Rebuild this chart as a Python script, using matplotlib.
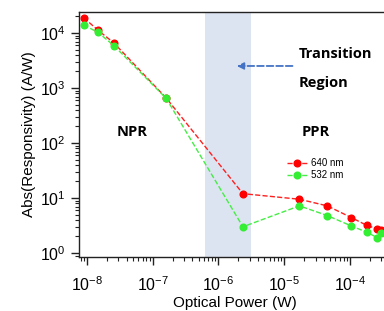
import matplotlib
matplotlib.use("Agg")
import matplotlib.pyplot as plt
from matplotlib.ticker import LogLocator, NullFormatter

# Data
power_640 = [8.9e-9, 1.47e-8, 2.57e-8, 1.6e-7, 2.35e-6, 1.7e-5, 4.5e-5, 1.05e-4, 1.78e-4, 2.6e-4, 2.95e-4]
resp_640 = [1.9e4, 1.13e4, 6.6e3, 660, 12, 9.5, 7.2, 4.4, 3.2, 2.73, 2.65]

power_532 = [8.9e-9, 1.47e-8, 2.57e-8, 1.6e-7, 2.35e-6, 1.7e-5, 4.5e-5, 1.05e-4, 1.78e-4, 2.6e-4, 2.95e-4]
resp_532 = [1.4e4, 1.03e4, 5.9e3, 650, 3.0, 7.2, 4.8, 3.1, 2.4, 1.9, 2.3]

transition = (6.25e-7, 3.13e-6)

plt.rcParams['font.family'] = ['Liberation Sans', 'DejaVu Sans']

fig = plt.figure(figsize=(3.84, 3.11), dpi=100)
# axes run a little past the right edge, like the cropped original
ax = fig.add_axes([0.206, 0.174, 0.81, 0.787])

ax.axvspan(transition[0], transition[1], color='#dde4f1', zorder=0, lw=0)

ax.plot(power_640, resp_640, linestyle='--', color='#ff2020', lw=1,
        marker='o', ms=4.8, mfc='#ff0000', mec='#ff0000', label='640 nm', zorder=3)
ax.plot(power_532, resp_532, linestyle='--', color='#44ee44', lw=1,
        marker='o', ms=4.8, mfc='#33ee33', mec='#33ee33', label='532 nm', zorder=3)

ax.set_xscale('log')
ax.set_yscale('log')
ax.set_xlim(7.6e-9, 4.07e-4)
ax.set_ylim(0.85, 2.4e4)

ax.xaxis.set_major_locator(LogLocator(base=10, numticks=10))
ax.xaxis.set_minor_locator(LogLocator(base=10, subs=range(2, 10), numticks=20))
ax.xaxis.set_minor_formatter(NullFormatter())
ax.yaxis.set_major_locator(LogLocator(base=10, numticks=10))
ax.yaxis.set_minor_locator(LogLocator(base=10, subs=range(2, 10), numticks=20))
ax.yaxis.set_minor_formatter(NullFormatter())

ax.tick_params(which='major', direction='out', length=6, width=1, labelsize=11.5, color='#222222')
ax.tick_params(which='minor', direction='out', length=3, width=0.8, color='#222222')
ax.tick_params(axis='x', which='major', pad=7)
for s in ax.spines.values():
    s.set_linewidth(1)
    s.set_color('#222222')

ax.set_xlabel('Optical Power (W)', fontsize=11, labelpad=2)
ax.set_ylabel('Abs(Responsivity) (A/W)', fontsize=11, labelpad=3)

bold = dict(fontsize=10.5, fontweight='bold', family=['Open Sans', 'DejaVu Sans'])
ax.text(0.170, 0.51, 'NPR', transform=ax.transAxes, ha='center', va='center', **bold)
ax.text(0.762, 0.51, 'PPR', transform=ax.transAxes, ha='center', va='center', **bold)
ax.text(0.707, 0.828, 'Transition', transform=ax.transAxes, ha='left', va='center', **bold)
ax.text(0.707, 0.712, 'Region', transform=ax.transAxes, ha='left', va='center', **bold)

ax.annotate('', xy=(0.498, 0.78), xytext=(0.695, 0.78), xycoords='axes fraction',
            arrowprops=dict(arrowstyle='-|>', linestyle='--', color='#4472c4',
                            lw=1.3, mutation_scale=10))

ax.legend(loc='upper left', bbox_to_anchor=(0.645, 0.43), frameon=False, fontsize=7,
          handlelength=2.2, handletextpad=0.3, labelspacing=0.15, borderpad=0.2)

fig.savefig('out.png', dpi=100)
